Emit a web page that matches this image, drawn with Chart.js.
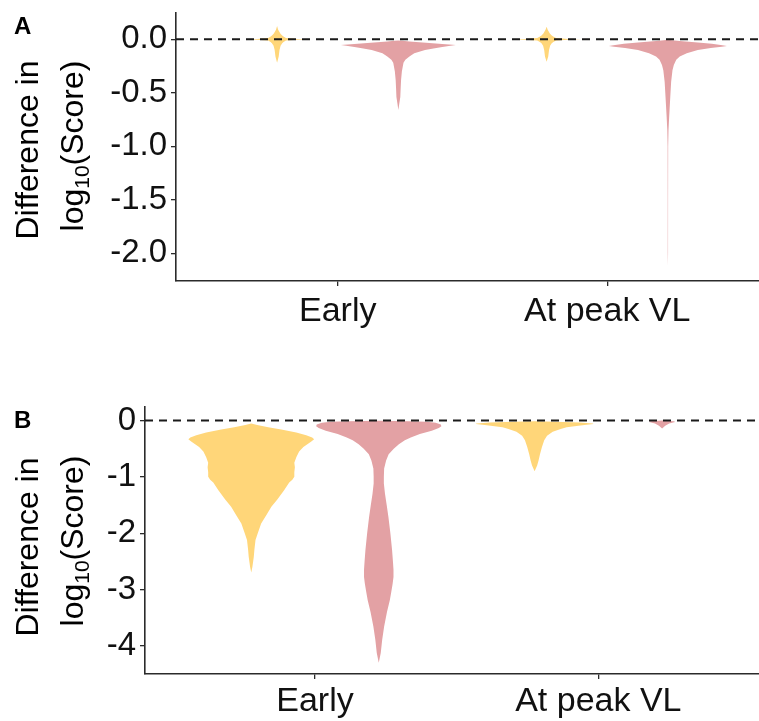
<!DOCTYPE html>
<html><head><meta charset="utf-8">
<script src="https://cdn.jsdelivr.net/npm/chart.js@4.4.1/dist/chart.umd.min.js"></script>
<style>
html,body{margin:0;padding:0;background:#fff;}
#wrap{position:relative;width:759px;height:721px;overflow:hidden;}
canvas{position:absolute;left:0;}
</style></head><body>
<div id="wrap">
<canvas id="cA" width="759" height="360" style="top:0px"></canvas>
<canvas id="cB" width="759" height="361" style="top:360px"></canvas>
</div>
<script>
// ---------------- DATA ----------------
const categories = ['Early', 'At peak VL'];
const panelLetters = ['A', 'B'];
const yTitleLine1 = 'Difference in';
const yTitleLine2 = ['log', '10', '(Score)'];   // log, subscript 10, (Score)
const ticksA = [0, -0.5, -1, -1.5, -2];
const ticksB = [0, -1, -2, -3, -4];
const refLineValue = 0;

// Violin outlines: y = value of log10 difference, w = half-width (density, in category units)
// Panel A, yellow series
const aYellowEarlyY = [0.125, 0.09, 0.055, 0.035, 0.024, 0.012, 0.004, 0, -0.004, -0.012, -0.025, -0.037, -0.06, -0.1, -0.16, -0.22];
const aYellowEarlyW = [0, 0.004, 0.012, 0.019, 0.025, 0.033, 0.074, 0.115, 0.074, 0.033, 0.024, 0.019, 0.013, 0.009, 0.006, 0];
const aYellowPeakY  = [0.118, 0.09, 0.055, 0.035, 0.024, 0.012, 0.004, 0, -0.004, -0.012, -0.025, -0.037, -0.06, -0.1, -0.16, -0.21];
const aYellowPeakW  = [0, 0.004, 0.012, 0.019, 0.026, 0.035, 0.08, 0.13, 0.08, 0.035, 0.025, 0.019, 0.013, 0.009, 0.006, 0];
// Panel A, red series
const aRedEarlyY = [-0.010, -0.013, -0.02, -0.034, -0.044, -0.053, -0.06, -0.072, -0.086, -0.1, -0.13, -0.16, -0.19, -0.22, -0.3, -0.38, -0.46, -0.54, -0.6, -0.66];
const aRedEarlyW = [0, 0.015, 0.041, 0.115, 0.163, 0.213, 0.193, 0.163, 0.130, 0.099, 0.059, 0.041, 0.026, 0.019, 0.013, 0.010, 0.0085, 0.0072, 0.0035, 0];
const aRedPeakY  = [-0.004, -0.008, -0.016, -0.03, -0.042, -0.053, -0.063, -0.07, -0.082, -0.1, -0.13, -0.16, -0.19, -0.24, -0.29, -0.4, -0.54, -0.72, -0.85, -1.0, -1.5, -2.0, -2.12];
const aRedPeakW  = [0, 0.015, 0.044, 0.111, 0.163, 0.196, 0.219, 0.2, 0.159, 0.111, 0.070, 0.044, 0.031, 0.022, 0.017, 0.012, 0.0088, 0.0048, 0.0022, 0.0010, 0.0007, 0.0006, 0];
// Panel B, yellow series
const bYellowEarlyY = [-0.05, -0.08, -0.12, -0.16, -0.21, -0.26, -0.3, -0.33, -0.37, -0.42, -0.47, -0.55, -0.65, -0.75, -0.83, -0.92, -1.0, -1.05, -1.1, -1.24, -1.4, -1.53, -1.68, -1.83, -2.0, -2.12, -2.3, -2.42, -2.6, -2.7];
const bYellowEarlyW = [0, 0.021, 0.060, 0.106, 0.159, 0.194, 0.215, 0.222, 0.212, 0.198, 0.184, 0.169, 0.159, 0.152, 0.154, 0.152, 0.152, 0.145, 0.134, 0.116, 0.092, 0.071, 0.053, 0.035, 0.023, 0.015, 0.011, 0.009, 0.004, 0];
const bYellowPeakY  = [-0.01, -0.02, -0.035, -0.05, -0.06, -0.08, -0.1, -0.12, -0.15, -0.2, -0.27, -0.35, -0.47, -0.6, -0.71, -0.8, -0.9];
const bYellowPeakW  = [0, 0.071, 0.159, 0.205, 0.208, 0.176, 0.141, 0.113, 0.092, 0.064, 0.044, 0.034, 0.026, 0.019, 0.014, 0.009, 0];
// Panel B, red series
const bRedEarlyY = [-0.005, -0.01, -0.02, -0.04, -0.07, -0.1, -0.13, -0.18, -0.24, -0.3, -0.35, -0.42, -0.5, -0.6, -0.71, -0.85, -1.0, -1.12, -1.3, -1.5, -1.71, -2.0, -2.3, -2.5, -2.65, -2.78, -2.9, -3.05, -3.19, -3.4, -3.66, -3.9, -4.13, -4.3];
const bRedEarlyW = [0, 0.106, 0.169, 0.201, 0.219, 0.221, 0.212, 0.187, 0.145, 0.113, 0.092, 0.071, 0.053, 0.035, 0.026, 0.019, 0.018, 0.018, 0.022, 0.028, 0.034, 0.041, 0.047, 0.050, 0.052, 0.052, 0.049, 0.044, 0.039, 0.029, 0.019, 0.012, 0.007, 0];
const bRedPeakY  = [0, -0.01, -0.025, -0.05, -0.09, -0.12, -0.14];
const bRedPeakW  = [0, 0.042, 0.046, 0.025, 0.011, 0.005, 0];

// ---------------- STYLE ----------------
const FONT = "'Liberation Sans', Arial, Helvetica, sans-serif";
const YELLOW = '#FFD679';
const RED = '#E3A1A4';
const DODGE = 0.225;
const AXIS_COLOR = '#2b2b2b';

function violinPoints(center, ys, ws) {
  const right = ys.map((y, i) => ({x: center + ws[i], y: y}));
  const left = ys.map((y, i) => ({x: center - ws[i], y: y})).reverse();
  return right.concat(left);
}

function violinDataset(center, ys, ws, color) {
  return {
    violin: true, fillColor: color,
    data: violinPoints(center, ys, ws),
    showLine: false, pointRadius: 0, pointHoverRadius: 0, borderWidth: 0
  };
}

const violinPlugin = {
  id: 'violinFill',
  beforeDatasetsDraw(chart) {
    const ctx = chart.ctx, a = chart.chartArea;
    ctx.save();
    ctx.beginPath();
    ctx.rect(a.left, a.top, a.right - a.left, a.bottom - a.top);
    ctx.clip();
    chart.data.datasets.forEach((ds, i) => {
      if (!ds.violin) return;
      const pts = chart.getDatasetMeta(i).data;
      ctx.beginPath();
      pts.forEach((p, j) => { if (j === 0) ctx.moveTo(p.x, p.y); else ctx.lineTo(p.x, p.y); });
      ctx.closePath();
      ctx.fillStyle = ds.fillColor;
      ctx.fill();
    });
    ctx.restore();
  }
};

function titlePlugin(letter, letterBaseline, cy1, cy2) {
  return {
    id: 'titles',
    afterDraw(chart) {
      const ctx = chart.ctx;
      ctx.save();
      ctx.fillStyle = '#000';
      ctx.textBaseline = 'alphabetic';
      ctx.textAlign = 'left';
      ctx.font = 'bold 24px ' + FONT;
      ctx.fillText(letter, 14, letterBaseline);
      const big = '32px ' + FONT, small = '21px ' + FONT;
      // line 1
      ctx.save();
      ctx.translate(38, cy1);
      ctx.rotate(-Math.PI / 2);
      ctx.textAlign = 'center';
      ctx.font = big;
      ctx.fillText(yTitleLine1, 0, 0);
      ctx.restore();
      // line 2 with subscript
      ctx.save();
      ctx.translate(83, cy2);
      ctx.rotate(-Math.PI / 2);
      ctx.textAlign = 'left';
      ctx.font = big;
      const w1 = ctx.measureText(yTitleLine2[0]).width;
      const w3 = ctx.measureText(yTitleLine2[2]).width;
      ctx.font = small;
      const w2 = ctx.measureText(yTitleLine2[1]).width;
      let x = -(w1 + w2 + w3) / 2;
      ctx.font = big; ctx.fillText(yTitleLine2[0], x, 0); x += w1;
      ctx.font = small; ctx.fillText(yTitleLine2[1], x, 6); x += w2;
      ctx.font = big; ctx.fillText(yTitleLine2[2], x, 0);
      ctx.restore();
      ctx.restore();
    }
  };
}

function makeChart(id, p) {
  const dashed = {
    data: [{x: p.xMin, y: refLineValue}, {x: p.xMax, y: refLineValue}],
    showLine: true, pointRadius: 0, borderColor: '#1a1a1a', borderWidth: 2,
    borderDash: [8, 6], fill: false
  };
  const ds = [dashed].concat(p.violins);
  return new Chart(document.getElementById(id), {
    type: 'scatter',
    data: {datasets: ds},
    options: {
      responsive: false, animation: false, events: [],
      layout: {padding: {top: p.padTop, left: 0, right: 0, bottom: 0}},
      plugins: {legend: {display: false}, tooltip: {enabled: false}},
      scales: {
        x: {
          type: 'linear', min: p.xMin, max: p.xMax,
          afterBuildTicks: s => { s.ticks = categories.map((c, i) => ({value: i + 1})); },
          afterFit: s => { s.height = p.xAxisH; s.paddingLeft = 0; s.paddingRight = 0; },
          ticks: {
            callback: v => categories[Math.round(v) - 1] || '',
            font: {family: FONT, size: 34}, color: '#111', padding: p.xPad,
            maxRotation: 0, minRotation: 0, autoSkip: false
          },
          grid: {drawOnChartArea: false, drawTicks: true, tickLength: 5, color: AXIS_COLOR, lineWidth: 1.3},
          border: {display: true, color: AXIS_COLOR, width: 1.6}
        },
        y: {
          type: 'linear', min: p.yMin, max: p.yMax,
          afterBuildTicks: s => { s.ticks = p.ticks.map(v => ({value: v})); },
          afterFit: s => { s.width = p.yAxisW; s.paddingTop = 0; s.paddingBottom = 0; },
          ticks: {
            callback: v => p.fmt(v),
            font: {family: FONT, size: 33}, color: '#111', padding: 4, autoSkip: false
          },
          grid: {drawOnChartArea: false, drawTicks: true, tickLength: 5, color: AXIS_COLOR, lineWidth: 1.3},
          border: {display: true, color: AXIS_COLOR, width: 1.6}
        }
      }
    },
    plugins: [violinPlugin, titlePlugin(p.letter, p.letterBaseline, p.cy1, p.cy2)]
  });
}

makeChart('cA', {
  xMin: 0.4, xMax: 2.563, yMin: -2.26, yMax: 0.246, ticks: ticksA,
  fmt: v => (Math.abs(v) < 1e-9 ? 0 : v).toFixed(1),
  padTop: 13, xAxisH: 79, yAxisW: 176, xPad: 5,
  letter: panelLetters[0], letterBaseline: 34, cy1: 150, cy2: 146,
  violins: [
    violinDataset(1 - DODGE, aYellowEarlyY, aYellowEarlyW, YELLOW),
    violinDataset(1 + DODGE, aRedEarlyY, aRedEarlyW, RED),
    violinDataset(2 - DODGE, aYellowPeakY, aYellowPeakW, YELLOW),
    violinDataset(2 + DODGE, aRedPeakY, aRedPeakW, RED)
  ]
});

makeChart('cB', {
  xMin: 0.4, xMax: 2.567, yMin: -4.502, yMax: 0.241, ticks: ticksB,
  fmt: v => String(Math.round(v) === 0 ? 0 : Math.round(v)),
  padTop: 47, xAxisH: 47, yAxisW: 145, xPad: 2,
  letter: panelLetters[1], letterBaseline: 68, cy1: 187, cy2: 181,
  violins: [
    violinDataset(1 - DODGE, bYellowEarlyY, bYellowEarlyW, YELLOW),
    violinDataset(1 + DODGE, bRedEarlyY, bRedEarlyW, RED),
    violinDataset(2 - DODGE, bYellowPeakY, bYellowPeakW, YELLOW),
    violinDataset(2 + DODGE, bRedPeakY, bRedPeakW, RED)
  ]
});
</script>
</body></html>
